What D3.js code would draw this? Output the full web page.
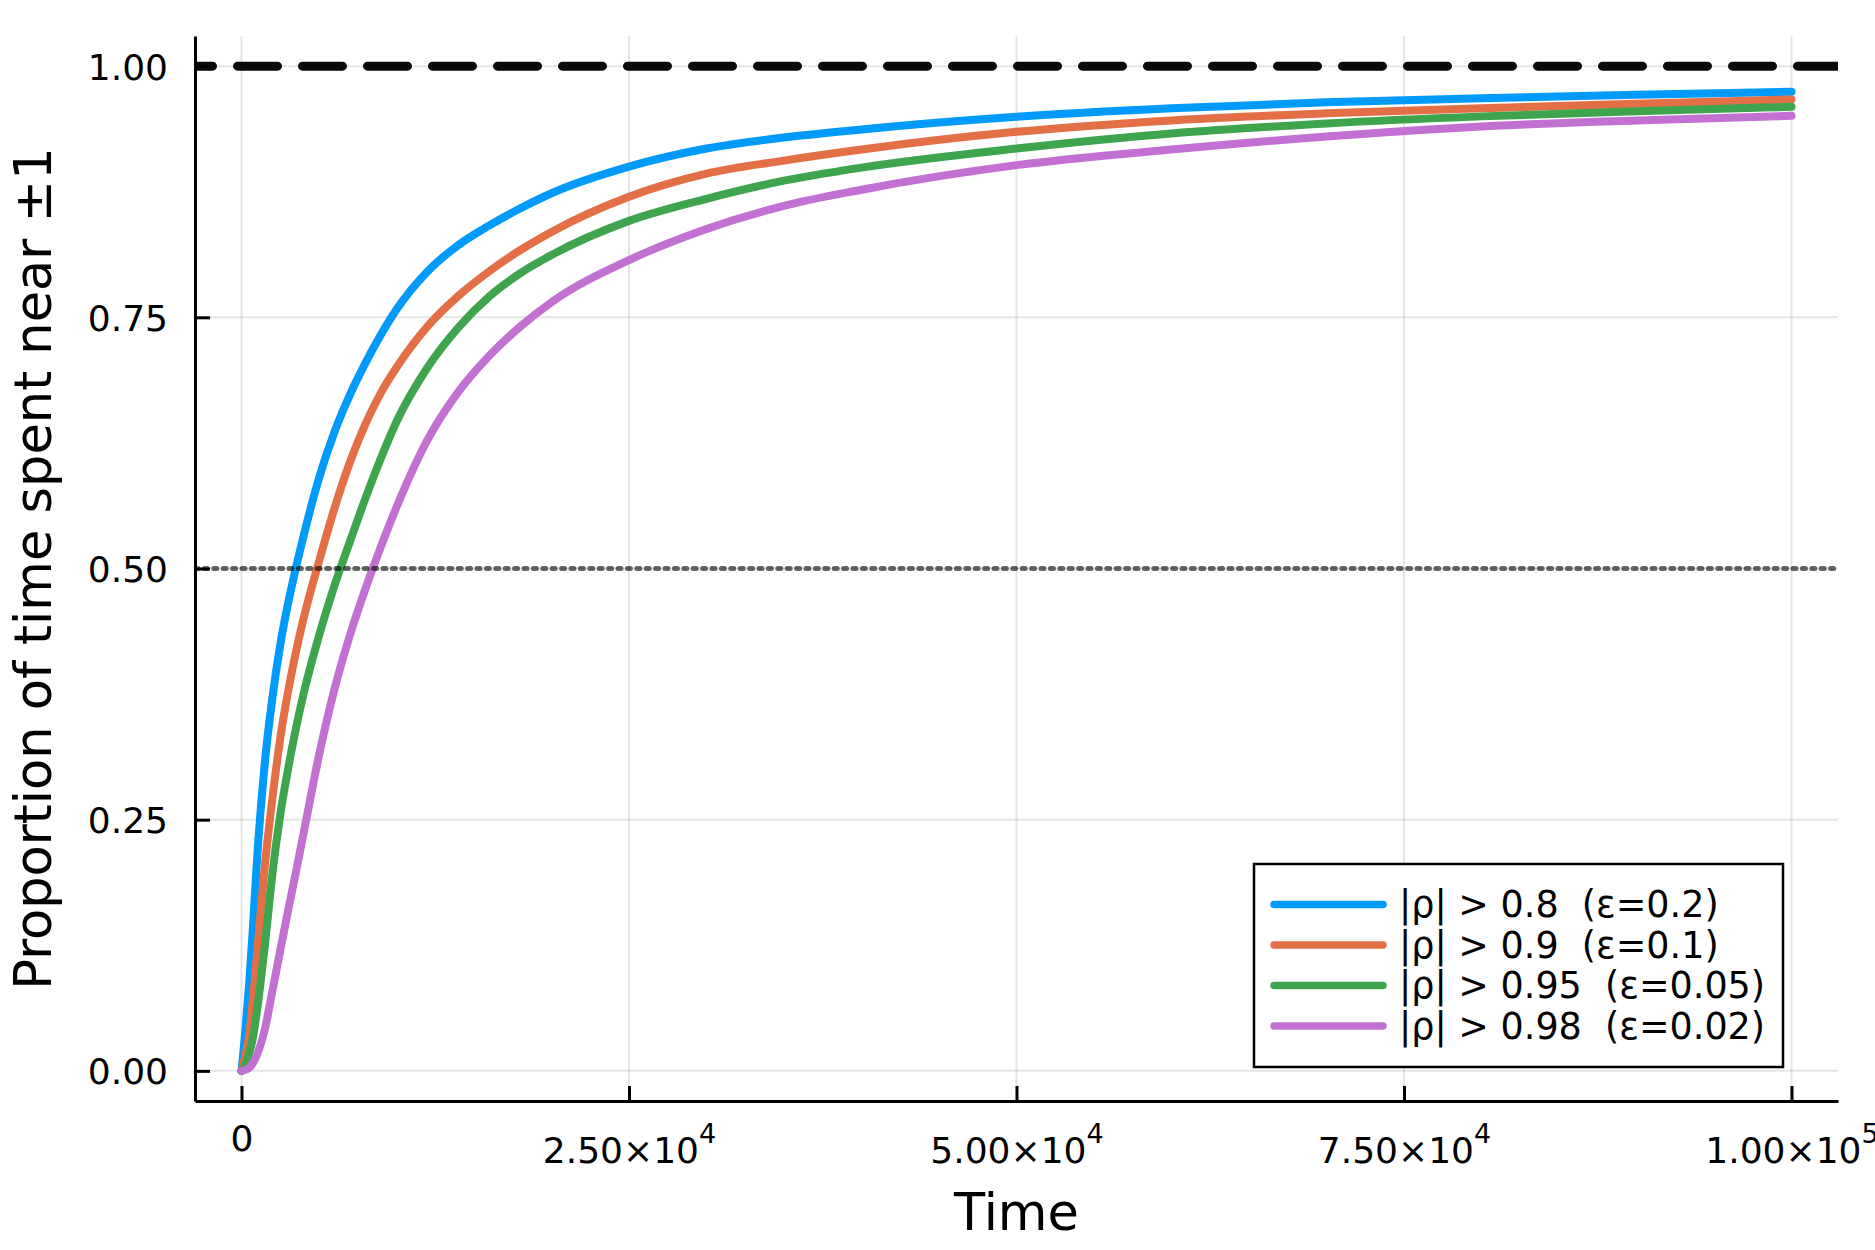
<!DOCTYPE html>
<html>
<head>
<meta charset="utf-8">
<script src="https://cdn.jsdelivr.net/npm/d3@7"></script>
<style>
  body { margin: 0; background: #fff; }
  svg { display: block; font-family: "DejaVu Sans", sans-serif; }
  .legend text { white-space: pre; }
</style>
</head>
<body>
<svg id="chart" width="1875" height="1250"></svg>
<script>
// time points (shared by all series)
const times = [0, 250, 500, 750, 1000, 1500, 2000, 2500, 3000, 3500, 4000, 5000, 6000, 7000, 8000, 9000,
  10000, 12000, 14000, 16000, 18000, 20000, 25000, 30000, 35000, 40000, 50000, 60000, 70000, 80000, 90000, 100000];

// proportion of time spent near ±1, one array per threshold
const eps02 = [0, 0.040, 0.088, 0.146, 0.210, 0.306, 0.372, 0.424, 0.465, 0.500, 0.532, 0.590, 0.636, 0.673, 0.7046, 0.7328,
  0.7577, 0.7956, 0.822, 0.8415, 0.8585, 0.8735, 0.900, 0.918, 0.929, 0.937, 0.9496, 0.958, 0.964, 0.968, 0.9715, 0.9745];
const eps01 = [0, 0.015, 0.036, 0.073, 0.116, 0.203, 0.272, 0.331, 0.377, 0.416, 0.450, 0.507, 0.560, 0.606, 0.644, 0.675,
  0.700, 0.741, 0.7715, 0.796, 0.817, 0.835, 0.870, 0.893, 0.906, 0.917, 0.9346, 0.946, 0.953, 0.958, 0.9625, 0.9668];
const eps005 = [0, 0.006, 0.018, 0.034, 0.060, 0.124, 0.197, 0.255, 0.300, 0.340, 0.375, 0.433, 0.483, 0.527, 0.570, 0.610,
  0.646, 0.700, 0.740, 0.771, 0.794, 0.812, 0.846, 0.868, 0.886, 0.899, 0.918, 0.933, 0.943, 0.950, 0.955, 0.9595];
const eps002 = [0, 0.001, 0.003, 0.008, 0.016, 0.041, 0.080, 0.120, 0.159, 0.197, 0.236, 0.314, 0.380, 0.434, 0.480, 0.522,
  0.561, 0.628, 0.676, 0.712, 0.741, 0.765, 0.807, 0.838, 0.861, 0.877, 0.9015, 0.917, 0.930, 0.940, 0.946, 0.9506];

const seriesNames = ["|ρ| > 0.8  (ε=0.2)", "|ρ| > 0.9  (ε=0.1)", "|ρ| > 0.95  (ε=0.05)", "|ρ| > 0.98  (ε=0.02)"];
const seriesValues = [eps02, eps01, eps005, eps002];
const colors = ["#009afa", "#e36f47", "#3ea44e", "#c271d2"];

const xTicks = [0, 25000, 50000, 75000, 100000];
const xTickMant = ["0", "2.50×10", "5.00×10", "7.50×10", "1.00×10"];
const xTickExp = ["", "4", "4", "4", "5"];
const yTicks = [0, 0.25, 0.5, 0.75, 1.0];

const refDashed = 1.0;
const refDotted = 0.5;

// Layout
const plotLeft = 195, plotRight = 1838, plotTop = 36, plotBottom = 1101;

const svg = d3.select("#chart");

const x = d3.scaleLinear().domain([-3000, 103000]).range([plotLeft, plotRight]);
const y = d3.scaleLinear().domain([-0.03, 1.03]).range([plotBottom, plotTop]);

svg.append("defs").append("clipPath").attr("id", "plotclip")
  .append("rect").attr("x", plotLeft).attr("y", plotTop)
  .attr("width", plotRight - plotLeft).attr("height", plotBottom - plotTop);

// Grid
const grid = svg.append("g").attr("class", "grid");
grid.selectAll("line.vx").data(xTicks).enter().append("line")
  .attr("x1", d => x(d)).attr("x2", d => x(d)).attr("y1", plotTop).attr("y2", plotBottom)
  .attr("stroke", "#000").attr("stroke-opacity", 0.1).attr("stroke-width", 2);
grid.selectAll("line.hy").data(yTicks).enter().append("line")
  .attr("x1", plotLeft).attr("x2", plotRight).attr("y1", d => y(d)).attr("y2", d => y(d))
  .attr("stroke", "#000").attr("stroke-opacity", 0.1).attr("stroke-width", 2);

// Series
const line = d3.line()
  .x((d, i) => x(times[i]))
  .y(d => y(d))
  .curve(d3.curveMonotoneX);

const plot = svg.append("g").attr("clip-path", "url(#plotclip)");
plot.selectAll("path.series").data(seriesValues).enter().append("path")
  .attr("class", "series")
  .attr("d", line)
  .attr("fill", "none")
  .attr("stroke", (d, i) => colors[i])
  .attr("stroke-width", 8)
  .attr("stroke-linecap", "round")
  .attr("stroke-linejoin", "round");

// Reference lines
plot.append("line")
  .attr("x1", plotLeft).attr("x2", plotRight).attr("y1", y(refDashed)).attr("y2", y(refDashed))
  .attr("stroke", "#0a0a0a").attr("stroke-width", 9)
  .attr("stroke-linecap", "round")
  .attr("stroke-dasharray", "40,25").attr("stroke-dashoffset", 22.5);
plot.append("line")
  .attr("x1", plotLeft).attr("x2", plotRight).attr("y1", y(refDotted)).attr("y2", y(refDotted))
  .attr("stroke", "#000").attr("stroke-opacity", 0.6).attr("stroke-width", 5)
  .attr("stroke-linecap", "round")
  .attr("stroke-dasharray", "3,6.4");

// Axes
const xAxis = svg.append("g")
  .attr("transform", `translate(0,${plotBottom})`)
  .call(d3.axisBottom(x).tickValues(xTicks).tickSize(-15).tickSizeOuter(0).tickFormat(""));
const yAxis = svg.append("g")
  .attr("transform", `translate(${plotLeft},0)`)
  .call(d3.axisLeft(y).tickValues(yTicks).tickSize(-15).tickSizeOuter(0).tickPadding(27).tickFormat(d3.format(".2f")));

[xAxis, yAxis].forEach(a => {
  a.select(".domain").attr("stroke", "#000").attr("stroke-width", 3);
  a.selectAll(".tick line").attr("stroke", "#000").attr("stroke-width", 3);
});
yAxis.selectAll(".tick text")
  .attr("font-size", 36).attr("font-family", "DejaVu Sans").attr("fill", "#000")
  .attr("dy", "0.36em");

xAxis.selectAll(".tick text").remove();
xAxis.selectAll(".tick").each(function(d, i) {
  const t = d3.select(this).append("text")
    .attr("text-anchor", "middle")
    .attr("font-size", 36)
    .attr("font-family", "DejaVu Sans")
    .attr("fill", "#000")
    .attr("y", xTickExp[i] ? 62 : 50);
  t.append("tspan").text(xTickMant[i]);
  if (xTickExp[i]) {
    t.append("tspan").attr("font-size", 27).attr("dy", -20).text(xTickExp[i]);
  }
});

// Axis labels
svg.append("text")
  .attr("x", (plotLeft + plotRight) / 2).attr("y", 1230)
  .attr("text-anchor", "middle").attr("font-size", 51).attr("fill", "#000")
  .text("Time");
svg.append("text")
  .attr("transform", `translate(51,${(plotTop + plotBottom) / 2}) rotate(-90)`)
  .attr("text-anchor", "middle").attr("font-size", 51).attr("fill", "#000")
  .text("Proportion of time spent near ±1");

// Legend
const legend = svg.append("g").attr("class", "legend");
legend.append("rect")
  .attr("x", 1254).attr("y", 864).attr("width", 529).attr("height", 203)
  .attr("fill", "#fff").attr("stroke", "#000").attr("stroke-width", 2.5);
const rowY = d3.scaleLinear().domain([0, 3]).range([904.5, 1026]);
const items = legend.selectAll("g.item").data(seriesNames).enter().append("g").attr("class", "item");
items.append("line")
  .attr("x1", 1274).attr("x2", 1383)
  .attr("y1", (d, i) => rowY(i)).attr("y2", (d, i) => rowY(i))
  .attr("stroke", (d, i) => colors[i]).attr("stroke-width", 7.5).attr("stroke-linecap", "round");
items.append("text")
  .attr("x", 1399).attr("y", (d, i) => rowY(i) + 12.5)
  .attr("font-size", 36.5).attr("fill", "#000")
  .text(d => d);
</script>
</body>
</html>
